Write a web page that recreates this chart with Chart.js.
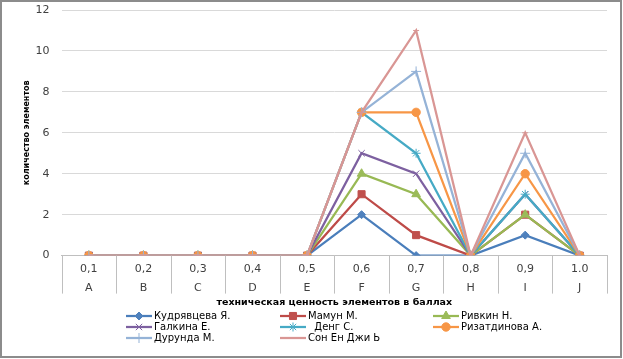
<!DOCTYPE html>
<html>
<head>
<meta charset="utf-8">
<script src="https://cdn.jsdelivr.net/npm/chart.js@4/dist/chart.umd.min.js"></script>
<style>
  html, body { margin: 0; padding: 0; background: #fff; }
  #wrap { width: 623px; height: 359px; position: relative; }
</style>
</head>
<body>
<div id="wrap"><canvas id="myChart" width="623" height="359"></canvas></div>
<script>
// categories (two-level x axis: score / letter)
const scores = ["0,1", "0,2", "0,3", "0,4", "0,5", "0,6", "0,7", "0,8", "0,9", "1.0"];
const letters = ["A", "B", "C", "D", "E", "F", "G", "H", "I", "J"];
const yTicks = [0, 2, 4, 6, 8, 10, 12];

// series
const names = ["Кудрявцева Я.", "Мамун М.", "Ривкин Н.", "Галкина Е.", "  Денг С.", "Ризатдинова А.", "Дурунда М.", "Сон Ен Джи Ь"];
const kudryavtseva = [0, 0, 0, 0, 0, 2, 0, 0, 1, 0];
const mamun        = [0, 0, 0, 0, 0, 3, 1, 0, 2, 0];
const rivkin       = [0, 0, 0, 0, 0, 4, 3, 0, 2, 0];
const galkina      = [0, 0, 0, 0, 0, 5, 4, 0, 3, 0];
const deng         = [0, 0, 0, 0, 0, 7, 5, 0, 3, 0];
const rizatdinova  = [0, 0, 0, 0, 0, 7, 7, 0, 4, 0];
const durunda      = [0, 0, 0, 0, 0, 7, 9, 0, 5, 0];
const sonEnDzhi    = [0, 0, 0, 0, 0, 7, 11, 0, 6, 0];
const seriesData = [kudryavtseva, mamun, rivkin, galkina, deng, rizatdinova, durunda, sonEnDzhi];

// looks
const lineColors = ["#4A7EBB", "#BE4B48", "#98B954", "#7D60A0", "#46AAC5", "#F79646", "#95B3D7", "#D99694"];
const markerFill = ["#4F81BD", "#C0504D", "#9BBB59", "#8064A2", "#4BACC6", "#F79646", "#95B3D7", "#D99694"];
const markers = ["rectRot", "rect", "triangle", "crossRot", "star", "circle", "cross", "line"];
const markerSize = [4, 5, 5, 4.5, 4.5, 4.2, 5, 3];

const legendCols = [126, 280, 433];
const legendRows = [316, 327, 338];

const frameAndSeparators = {
    id: 'frameAndSeparators',
    afterDraw(chart) {
        const ctx = chart.ctx;
        const x = chart.scales.x;
        const area = chart.chartArea;
        ctx.save();
        // category separators below the axis
        ctx.strokeStyle = '#bfbfbf';
        ctx.lineWidth = 1;
        for (let i = 0; i <= scores.length; i++) {
            const px = Math.round(x.getPixelForValue(i - 0.5)) + 0.5;
            ctx.beginPath();
            ctx.moveTo(px, area.bottom);
            ctx.lineTo(px, area.bottom + 38);
            ctx.stroke();
        }
        // legend grid (3 columns)
        ctx.font = '10px "DejaVu Sans"';
        ctx.textBaseline = 'middle';
        chart.data.datasets.forEach((ds, i) => {
            const lx = legendCols[i % 3];
            const ly = legendRows[Math.floor(i / 3)];
            ctx.strokeStyle = ds.borderColor;
            ctx.lineWidth = 2.25;
            ctx.beginPath();
            ctx.moveTo(lx, ly);
            ctx.lineTo(lx + 26, ly);
            ctx.stroke();
            ctx.fillStyle = ds.pointBackgroundColor;
            ctx.strokeStyle = ds.pointBorderColor;
            ctx.lineWidth = 1;
            if (ds.pointStyle !== 'line') {
                Chart.helpers.drawPoint(ctx, { pointStyle: ds.pointStyle, radius: ds.pointRadius, rotation: 0, borderWidth: 1 }, lx + 13, ly);
            }
            ctx.fillStyle = '#000';
            ctx.textAlign = 'left';
            ctx.fillText(ds.label, lx + 28, ly);
        });
        // outer frame
        ctx.strokeStyle = '#8c8c8c';
        ctx.lineWidth = 2;
        ctx.strokeRect(1, 1, chart.width - 3, chart.height - 3);
        ctx.restore();
    }
};

const ctx = document.getElementById("myChart").getContext('2d');
new Chart(ctx, {
    type: "line",
    data: {
        labels: scores.map((s, i) => [s, letters[i]]),
        datasets: seriesData.map((d, i) => ({
            label: names[i],
            data: d,
            borderColor: lineColors[i],
            backgroundColor: markerFill[i],
            borderWidth: 2.25,
            pointStyle: markers[i],
            pointRadius: markerSize[i],
            pointBackgroundColor: markerFill[i],
            pointBorderColor: markers[i] === 'crossRot' || markers[i] === 'star' || markers[i] === 'cross' || markers[i] === 'line' ? lineColors[i] : markerFill[i],
            pointBorderWidth: 1,
            tension: 0,
            fill: false,
            order: seriesData.length - i
        }))
    },
    options: {
        responsive: false,
        animation: false,
        layout: { padding: { left: 22, right: 16, top: 10, bottom: 51 } },
        plugins: {
            legend: { display: false },
            tooltip: { enabled: false }
        },
        scales: {
            x: {
                offset: true,
                grid: { display: false, drawTicks: false },
                border: { display: true, color: '#bfbfbf' },
                ticks: {
                    color: '#404040',
                    font: { family: 'DejaVu Sans', size: 11, lineHeight: '19px' },
                    padding: 4,
                    maxRotation: 0,
                    autoSkip: false
                },
                title: {
                    display: true,
                    text: 'техническая ценность элементов в баллах',
                    color: '#000',
                    font: { family: 'DejaVu Sans', size: 9.5, weight: 'bold', lineHeight: 1.2 },
                    padding: { top: -5, bottom: 0 }
                }
            },
            y: {
                min: 0,
                max: 12,
                afterBuildTicks: (scale) => { scale.ticks = yTicks.map(v => ({ value: v })); },
                grid: { color: '#d9d9d9', drawTicks: true, tickLength: 12, tickColor: 'rgba(0,0,0,0)' },
                border: { display: false },
                ticks: {
                    color: '#404040',
                    font: { family: 'DejaVu Sans', size: 11 },
                    padding: 0
                },
                title: {
                    display: true,
                    text: 'количество элементов',
                    color: '#000',
                    font: { family: 'DejaVu Sans', size: 8, weight: 'bold', lineHeight: 1.2 },
                    padding: { top: 0, bottom: 4 }
                }
            }
        }
    },
    plugins: [frameAndSeparators]
});
</script>
</body>
</html>
